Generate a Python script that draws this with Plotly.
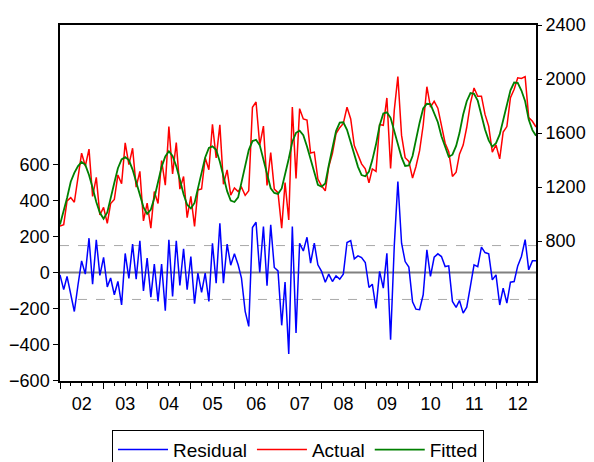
import pandas as pd
import plotly.graph_objects as go

# Monthly sample 2002M01 - 2012M12
months = pd.date_range("2002-01-01", "2012-12-01", freq="MS").strftime("%Y-%m-%d").tolist()

fitted = [
    924, 1017, 1120, 1240, 1305, 1356, 1386, 1365, 1290, 1196, 1090, 1010,
    966, 1012, 1108, 1233, 1340, 1405, 1422, 1400, 1330, 1237, 1141, 1052,
    1002, 1034, 1120, 1240, 1350, 1427, 1466, 1431, 1354, 1257, 1147, 1070,
    1043, 1083, 1182, 1297, 1420, 1490, 1502, 1476, 1387, 1280, 1170, 1100,
    1090, 1124, 1230, 1355, 1474, 1541, 1550, 1511, 1396, 1287, 1191, 1157,
    1150, 1190, 1287, 1410, 1536, 1602, 1618, 1585, 1500, 1400, 1296, 1217,
    1203, 1227, 1360, 1500, 1615, 1677, 1680, 1624, 1527, 1432, 1350, 1289,
    1280, 1315, 1400, 1517, 1657, 1745, 1753, 1713, 1620, 1513, 1420, 1357,
    1360, 1430, 1555, 1677, 1782, 1817, 1814, 1750, 1680, 1576, 1492, 1425,
    1440, 1505, 1600, 1737, 1836, 1896, 1891, 1840, 1732, 1627, 1546, 1500,
    1525, 1590, 1695, 1818, 1916, 1974, 1972, 1915, 1835, 1700, 1622, 1580,
]

residual = [
    -13, -95, -22, -118, -217, -68, 65, -9, 191, -65, 182, -16,
    84, -80, -30, -124, -50, -180, 106, -33, 158, -37, 176, -102,
    80, -137, 47, -161, 47, -213, 182, -133, 176, -72, 132, -96,
    89, -174, -3, -111, -3, -161, 163, -59, 274, -59, 158, 41,
    104, 43, -31, -216, -300, 250, 280, 0, 256, -74, 265, 28,
    9, -294, -53, -453, 256, -337, 163, 120, 196, 52, 163, 43,
    6, -54, -9, -50, -19, -37, -9, 167, 178, 76, 93, 83,
    56, -83, -65, -200, 6, -87, 107, -374, 150, 506, 163, 61,
    30, -163, -204, -207, -124, 126, -22, 85, 104, 89, 33, 37,
    -161, -194, -156, -226, -193, -74, 43, 33, 141, 111, 104, -41,
    -13, -181, -87, -170, -54, -50, 37, 89, 183, 15, 65, 65,
]

actual = [f + r for f, r in zip(fitted, residual)]

left_ticks = [-600, -400, -200, 0, 200, 400, 600]
right_ticks = [800, 1200, 1600, 2000, 2400]
band = 150

FONT = "Liberation Sans, Arial, sans-serif"

fig = go.Figure()
fig.add_trace(go.Scatter(x=months, y=residual, name="Residual", mode="lines",
                         line=dict(color="#0000FF", width=1.5), yaxis="y"))
fig.add_trace(go.Scatter(x=months, y=actual, name="Actual", mode="lines",
                         line=dict(color="#FF0000", width=1.5), yaxis="y2"))
fig.add_trace(go.Scatter(x=months, y=fitted, name="Fitted", mode="lines",
                         line=dict(color="#008000", width=1.8), yaxis="y2"))

fig.add_hline(y=0, line=dict(color="#808080", width=2), layer="below")
fig.add_hline(y=band, line=dict(color="#A8A8A8", width=1, dash="dash"), layer="below")
fig.add_hline(y=-band, line=dict(color="#A8A8A8", width=1, dash="dash"), layer="below")

# page body has an 8px default margin, so the figure is sized to fit inside the window
fig.update_layout(
    width=586, height=454,
    margin=dict(l=52, r=58, t=17, b=81, autoexpand=False),
    paper_bgcolor="white", plot_bgcolor="white",
    font=dict(family=FONT, size=18, color="black"),
    showlegend=True,
    legend=dict(orientation="h", x=0.5, xanchor="center", y=-0.137, yanchor="top",
                bordercolor="black", borderwidth=1, font=dict(size=19),
                traceorder="normal", itemwidth=50),
    xaxis=dict(type="date", range=[months[0], months[-1]], automargin=False,
               tick0="2002-01-01", dtick="M12", ticklabelmode="period", tickformat="%y",
               ticks="outside", ticklen=6, tickcolor="black", tickwidth=1,
               minor=dict(dtick="M3", ticks="outside", ticklen=3, tickcolor="black"),
               showgrid=False, zeroline=False,
               showline=True, linecolor="black", linewidth=1.5, mirror=True),
    yaxis=dict(range=[-604, 1378], tickvals=left_ticks, automargin=False,
               ticks="outside", ticklen=5, tickcolor="black",
               showgrid=False, zeroline=False,
               showline=True, linecolor="black", linewidth=1.5, mirror=True),
    yaxis2=dict(range=[-235, 2400], tickvals=right_ticks, overlaying="y", side="right",
                automargin=False,
                ticks="outside", ticklen=5, tickcolor="black",
                showgrid=False, zeroline=False, showline=False),
)

fig.write_html("out.html")
